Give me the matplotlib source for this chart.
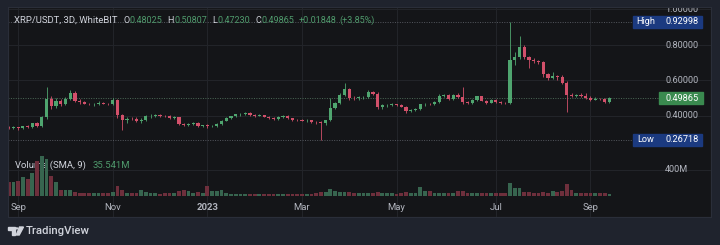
import matplotlib
matplotlib.use('Agg')
import matplotlib.pyplot as plt
import matplotlib.dates as mdates
from matplotlib.patches import Rectangle, Circle, Polygon
from matplotlib.transforms import blended_transform_factory
import datetime as dt

plt.rcParams['font.family'] = ['Roboto', 'DejaVu Sans']

# ---------------- data ----------------
symbol = "XRP/USDT, 3D, WhiteBIT"
start_date = dt.date(2022, 8, 28)
step_days = 3

opens = [0.338, 0.333, 0.336, 0.330, 0.341, 0.337, 0.358, 0.345, 0.392, 0.495,
         0.455, 0.485, 0.465, 0.495, 0.530, 0.485, 0.478, 0.470, 0.465, 0.468,
         0.476, 0.470, 0.467, 0.492, 0.405, 0.378, 0.385, 0.383, 0.374, 0.380,
         0.398, 0.401, 0.405, 0.400, 0.398, 0.390, 0.392, 0.356, 0.350, 0.353,
         0.360, 0.345, 0.348, 0.343, 0.345, 0.356, 0.374, 0.388, 0.398, 0.410,
         0.412, 0.418, 0.405, 0.402, 0.404, 0.396, 0.386, 0.384, 0.394, 0.400,
         0.386, 0.378, 0.377, 0.375, 0.378, 0.368, 0.364, 0.358, 0.376, 0.445,
         0.472, 0.520, 0.552, 0.502, 0.500, 0.505, 0.508, 0.535, 0.526, 0.448,
         0.460, 0.463, 0.466, 0.460, 0.452, 0.428, 0.434, 0.440, 0.465, 0.468,
         0.466, 0.480, 0.515, 0.518, 0.496, 0.520, 0.505, 0.478, 0.475, 0.490,
         0.510, 0.486, 0.476, 0.490, 0.478, 0.474, 0.472, 0.715, 0.735, 0.790,
         0.730, 0.716, 0.710, 0.702, 0.635, 0.615, 0.625, 0.618, 0.588, 0.520,
         0.512, 0.518, 0.514, 0.502, 0.492, 0.498, 0.495, 0.48025]
highs = [0.345, 0.342, 0.340, 0.346, 0.350, 0.362, 0.366, 0.400, 0.565, 0.510,
         0.500, 0.495, 0.505, 0.545, 0.540, 0.495, 0.485, 0.476, 0.474, 0.482,
         0.480, 0.476, 0.500, 0.498, 0.412, 0.392, 0.395, 0.392, 0.386, 0.405,
         0.410, 0.412, 0.410, 0.406, 0.408, 0.398, 0.396, 0.362, 0.358, 0.365,
         0.366, 0.352, 0.356, 0.350, 0.360, 0.378, 0.392, 0.402, 0.414, 0.418,
         0.422, 0.420, 0.412, 0.410, 0.408, 0.400, 0.392, 0.398, 0.404, 0.403,
         0.390, 0.384, 0.382, 0.382, 0.380, 0.374, 0.372, 0.380, 0.500, 0.480,
         0.528, 0.585, 0.556, 0.512, 0.510, 0.515, 0.545, 0.540, 0.535, 0.466,
         0.470, 0.472, 0.470, 0.465, 0.458, 0.440, 0.446, 0.470, 0.475, 0.474,
         0.484, 0.525, 0.524, 0.526, 0.524, 0.528, 0.562, 0.486, 0.495, 0.515,
         0.514, 0.490, 0.494, 0.494, 0.482, 0.480, 0.92998, 0.760, 0.850, 0.800,
         0.738, 0.724, 0.716, 0.708, 0.642, 0.650, 0.632, 0.632, 0.595, 0.530,
         0.525, 0.528, 0.530, 0.510, 0.505, 0.504, 0.502, 0.50807]
lows = [0.328, 0.327, 0.323, 0.325, 0.333, 0.330, 0.340, 0.340, 0.385, 0.440,
        0.445, 0.455, 0.460, 0.490, 0.478, 0.470, 0.465, 0.460, 0.458, 0.462,
        0.465, 0.462, 0.462, 0.390, 0.320, 0.362, 0.375, 0.365, 0.360, 0.370,
        0.390, 0.392, 0.396, 0.394, 0.385, 0.384, 0.350, 0.345, 0.344, 0.348,
        0.338, 0.340, 0.335, 0.336, 0.340, 0.352, 0.370, 0.382, 0.394, 0.402,
        0.405, 0.400, 0.396, 0.398, 0.392, 0.382, 0.378, 0.380, 0.388, 0.382,
        0.374, 0.372, 0.370, 0.368, 0.362, 0.355, 0.26718, 0.352, 0.370, 0.438,
        0.465, 0.510, 0.492, 0.490, 0.492, 0.498, 0.502, 0.520, 0.438, 0.440,
        0.452, 0.456, 0.455, 0.448, 0.418, 0.422, 0.428, 0.435, 0.458, 0.460,
        0.462, 0.475, 0.506, 0.490, 0.492, 0.500, 0.470, 0.470, 0.470, 0.485,
        0.482, 0.470, 0.472, 0.474, 0.470, 0.466, 0.465, 0.690, 0.720, 0.720,
        0.670, 0.700, 0.695, 0.620, 0.605, 0.608, 0.605, 0.580, 0.420, 0.505,
        0.505, 0.506, 0.498, 0.485, 0.488, 0.488, 0.472, 0.47230]
closes = [0.333, 0.336, 0.330, 0.341, 0.337, 0.358, 0.345, 0.392, 0.495, 0.455,
          0.485, 0.465, 0.495, 0.530, 0.485, 0.478, 0.470, 0.465, 0.468, 0.476,
          0.470, 0.467, 0.492, 0.405, 0.378, 0.385, 0.383, 0.374, 0.380, 0.398,
          0.401, 0.405, 0.400, 0.398, 0.390, 0.392, 0.356, 0.350, 0.353, 0.360,
          0.345, 0.348, 0.343, 0.345, 0.356, 0.374, 0.388, 0.398, 0.410, 0.412,
          0.418, 0.405, 0.402, 0.404, 0.396, 0.386, 0.384, 0.394, 0.400, 0.386,
          0.378, 0.377, 0.375, 0.378, 0.368, 0.364, 0.358, 0.376, 0.445, 0.472,
          0.520, 0.552, 0.502, 0.500, 0.505, 0.508, 0.535, 0.526, 0.448, 0.460,
          0.463, 0.466, 0.460, 0.452, 0.428, 0.434, 0.440, 0.465, 0.468, 0.466,
          0.480, 0.515, 0.518, 0.496, 0.520, 0.505, 0.478, 0.475, 0.490, 0.510,
          0.486, 0.476, 0.490, 0.478, 0.474, 0.472, 0.715, 0.735, 0.790, 0.730,
          0.716, 0.710, 0.702, 0.635, 0.615, 0.625, 0.618, 0.588, 0.520, 0.512,
          0.518, 0.514, 0.502, 0.492, 0.498, 0.495, 0.48017, 0.49865]
# volume in millions
volumes = [205, 215, 230, 282, 256, 343, 523, 600, 559, 303,
           215, 97, 87, 97, 62, 45, 42, 40, 38, 42,
           40, 38, 55, 149, 97, 46, 40, 42, 97, 62,
           45, 40, 35, 38, 42, 40, 77, 87, 77, 45,
           55, 40, 149, 77, 77, 97, 40, 35, 30, 28,
           30, 28, 25, 25, 28, 30, 25, 25, 24, 25,
           26, 24, 25, 28, 30, 40, 55, 60, 100, 70,
           65, 60, 55, 45, 40, 42, 50, 40, 60, 45,
           40, 38, 36, 40, 55, 40, 38, 133, 77, 70,
           50, 50, 45, 48, 50, 80, 80, 45, 42, 45,
           42, 40, 38, 42, 40, 45, 195, 128, 118, 60,
           55, 45, 48, 60, 50, 80, 55, 80, 180, 92,
           50, 45, 45, 48, 40, 42, 45, 35.541]

price_ticks = [1.0, 0.8, 0.6, 0.4]
volume_ticks = [400]
month_labels = ["Sep", "Nov", "2023", "Mar", "May", "Jul", "Sep"]
month_starts = [dt.date(2022, 9, 1), dt.date(2022, 11, 1), dt.date(2023, 1, 1),
                dt.date(2023, 3, 1), dt.date(2023, 5, 1), dt.date(2023, 7, 1),
                dt.date(2023, 9, 1)]

# ---------------- style ----------------
OUTER = '#1f232d'
PANEL = '#141518'
UP = '#4fa56f'
DOWN = '#d2506a'
VUP = '#37654f'
VDOWN = '#6e2f3c'
TXT = '#d1d4dc'
AX_TXT = '#b2b5be'
GRID = '#222429'
VAL_GREEN = '#4f9a6c'

W, H = 720, 245
fig = plt.figure(figsize=(W / 100, H / 100), dpi=100)
fig.patch.set_facecolor(OUTER)

px_left, px_right, px_top, px_bot = 8, 711, 7, 217
ax = fig.add_axes([px_left / W, (H - px_bot) / H, (px_right - px_left) / W, (px_bot - px_top) / H])
ax.set_facecolor(PANEL)

dates = [start_date + dt.timedelta(days=step_days * i) for i in range(len(opens))]
x = mdates.date2num(dates)
x0 = mdates.date2num(start_date)
days_per_px = step_days / 4.73
ax.set_xlim(x0 - 0.7 * days_per_px, x0 + (px_right - px_left - 0.7) * days_per_px)
# price axis: 0.4 at pixel 116, 0.2 per 35.5 px
ppx = 0.2 / 35.5
ax.set_ylim(0.4 - (px_bot - 116) * ppx, 0.4 + (116 - px_top) * ppx)

# grid
for p in price_ticks:
    ax.axhline(p, color=GRID, lw=0.8, zorder=0)
trans_xa = blended_transform_factory(ax.transData, ax.transAxes)
label_x = []
for ms in month_starts:
    idx = next(i for i, d in enumerate(dates) if d >= ms)
    label_x.append(x[idx])
for lx in label_x:
    ax.axvline(lx, color=GRID, lw=0.8, zorder=0)

# candles
body_w = step_days * 0.68
for xi, o, h, l, c in zip(x, opens, highs, lows, closes):
    col = UP if c >= o else DOWN
    ax.vlines(xi, l, h, color=col, lw=0.6, zorder=3)
    hgt = max(abs(c - o), 0.003)
    ax.bar(xi, hgt, bottom=min(o, c) - (hgt - abs(c - o)) / 2, width=body_w,
           color=col, edgecolor='none', zorder=4)

# volume overlay
ax2 = ax.twinx()
ax2.set_xlim(ax.get_xlim())
vpx = 400 / 26.5
ax2.set_ylim(-(px_bot - 196) * vpx, (196 - px_top) * vpx)
ax2.patch.set_visible(False)
for vt in volume_ticks:
    ax2.axhline(vt, color=GRID, lw=0.8, zorder=0)
vcols = [VUP if c >= o else VDOWN for o, c in zip(opens, closes)]
ax2.bar(x, volumes, width=step_days * 0.8, color=vcols, edgecolor='none', zorder=2)

for a in (ax, ax2):
    a.set_xticks([])
    a.set_yticks([])
    for s in a.spines.values():
        s.set_color('#2a2e39')
        s.set_linewidth(0.8)

# special lines
hi_v, lo_v, last_v = max(highs), min(lows), closes[-1]
ax.axhline(hi_v, xmax=0.888, color='#55585f', lw=0.7, ls=(0, (1, 1.5)), zorder=2)
ax.axhline(lo_v, xmax=0.888, color='#55585f', lw=0.7, ls=(0, (1, 1.5)), zorder=2)
ax.axhline(last_v, xmax=0.925, color='#4d6b58', lw=0.7, ls=(0, (1, 1.5)), zorder=2)

# price scale labels
trans_ay = blended_transform_factory(ax.transAxes, ax.transData)
lab_x = (665 - px_left) / (px_right - px_left)
for p in price_ticks:
    ax.text(lab_x, p, f"{p:.5f}", transform=trans_ay, color=AX_TXT, fontsize=6.6,
            ha='left', va='center', clip_on=True, zorder=6)
trans_ay2 = blended_transform_factory(ax2.transAxes, ax2.transData)
for vt in volume_ticks:
    ax2.text(lab_x, vt, f"{vt:d}M", transform=trans_ay2, color=AX_TXT, fontsize=6.6,
             ha='left', va='center', zorder=6)

def frac(px):
    return (px - px_left) / (px_right - px_left)

box_h = 12 * ppx
# High box
ax.add_patch(Rectangle((frac(633), hi_v - box_h / 2), frac(702) - frac(633), box_h,
                       transform=trans_ay, color='#1b3a80', zorder=7, clip_on=False))
ax.text(frac(636), hi_v, "High", transform=trans_ay, color='white', fontsize=6.6,
        ha='left', va='center', zorder=8)
ax.text(lab_x, hi_v, f"{hi_v:.5f}", transform=trans_ay, color='white', fontsize=6.6,
        ha='left', va='center', zorder=8)
# Low box
ax.add_patch(Rectangle((frac(633), lo_v - box_h / 2), frac(702) - frac(633), box_h,
                       transform=trans_ay, color='#1b3a80', zorder=7, clip_on=False))
ax.text(frac(637), lo_v, "Low", transform=trans_ay, color='white', fontsize=6.6,
        ha='left', va='center', zorder=8)
ax.text(lab_x, lo_v, f"{lo_v:.5f}", transform=trans_ay, color='white', fontsize=6.6,
        ha='left', va='center', zorder=8)
# last price box
ax.add_patch(Rectangle((frac(659), last_v - box_h / 2), frac(703) - frac(659), box_h,
                       transform=trans_ay, color='#3a8a4f', zorder=7, clip_on=False))
ax.text(lab_x, last_v, f"{last_v:.5f}", transform=trans_ay, color='white', fontsize=6.6,
        ha='left', va='center', zorder=8)

# time labels
for lx, lab in zip(label_x, month_labels):
    ax.text(lx, (px_bot - 207) / (px_bot - px_top), lab, transform=trans_xa,
            color=AX_TXT, fontsize=6.8, ha='center', va='center',
            fontweight='bold' if lab.isdigit() else 'normal', zorder=6)

# header legend
chg = closes[-1] - closes[-2]
pct = chg / closes[-2] * 100
pieces = [(symbol, TXT, 0), ("O", TXT, 6), (f"{opens[-1]:.5f}", VAL_GREEN, 0.3),
          ("H", TXT, 5), (f"{highs[-1]:.5f}", VAL_GREEN, 0.3),
          ("L", TXT, 5), (f"{lows[-1]:.5f}", VAL_GREEN, 0.3),
          ("C", TXT, 5), (f"{closes[-1]:.5f}", VAL_GREEN, 0.3),
          (f"{chg:+.5f}", VAL_GREEN, 5), (f"({pct:+.2f}%)", VAL_GREEN, 3)]
hy = 1 - (20.5 - px_top) / (px_bot - px_top)
prev = None
for i, (txt, col, gap) in enumerate(pieces):
    fs = 6.8 if i == 0 else 6.5
    if prev is None:
        prev = ax.text(frac(14), hy, txt, transform=ax.transAxes, color=col,
                       fontsize=fs, ha='left', va='center', zorder=9)
    else:
        prev = ax.annotate(txt, xy=(1, 0), xycoords=prev, xytext=(gap, 0),
                           textcoords='offset pixels', color=col, fontsize=fs,
                           ha='left', va='bottom', zorder=9)

vy = (px_bot - 165.5) / (px_bot - px_top)
vt1 = ax.text(frac(15), vy, "Volume (SMA, 9)", transform=ax.transAxes, color=TXT,
              fontsize=6.8, ha='left', va='center', zorder=9)
ax.annotate(f"{volumes[-1]:.3f}M", xy=(1, 0), xycoords=vt1, xytext=(7, 0),
            textcoords='offset pixels', color=VAL_GREEN, fontsize=6.8,
            ha='left', va='bottom', zorder=9)

# TradingView logo
def fx(px):
    return px / W

def fy(py):
    return 1 - py / H

logo_col = TXT
fig.add_artist(Polygon([(fx(8), fy(227)), (fx(14.5), fy(227)), (fx(14.5), fy(235)),
                        (fx(11.8), fy(235)), (fx(11.8), fy(229.6)), (fx(8), fy(229.6))],
                       closed=True, transform=fig.transFigure, color=logo_col))
fig.add_artist(Circle((fx(16.6), fy(228.4)), 1.3 / W, transform=fig.transFigure, color=logo_col))
fig.add_artist(Polygon([(fx(19.5), fy(227)), (fx(23.5), fy(227)), (fx(19.2), fy(235)),
                        (fx(16.3), fy(235))],
                       closed=True, transform=fig.transFigure, color=logo_col))
fig.text(fx(26), fy(231.3), "TradingView", color=logo_col, fontsize=8.2,
         ha='left', va='center', fontweight='medium')

fig.savefig('out.png', dpi=100, facecolor=OUTER)
